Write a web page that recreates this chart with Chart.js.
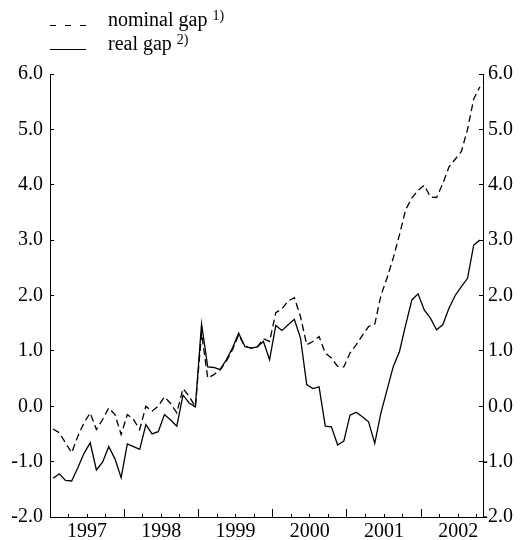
<!DOCTYPE html>
<html>
<head>
<meta charset="utf-8">
<script src="https://cdn.jsdelivr.net/npm/chart.js@4/dist/chart.umd.min.js"></script>
<style>
  html, body { margin: 0; padding: 0; background: #fff; }
  #wrap { position: relative; width: 523px; height: 540px; }
  .legend-row { position: absolute; left: 50px; height: 20px; line-height: 20px; font-family: "Liberation Serif", serif; font-size: 20px; color: #000; white-space: nowrap; }
  .legend-row svg { position: absolute; left: 0; }
  .legend-row .txt { position: absolute; left: 58px; }
  .legend-row .sup { font-size: 14px; position: relative; top: -6px; }
</style>
</head>
<body>
<div id="wrap">
  <canvas id="gap-chart" width="523" height="540"></canvas>
  <div class="legend-row" style="top:9px">
    <svg width="40" height="24" style="top:0"><line x1="0" y1="16.5" x2="36" y2="16.5" stroke="#000" stroke-width="1.2" stroke-dasharray="6,9"/></svg>
    <span class="txt">nominal gap <span class="sup">1)</span></span>
  </div>
  <div class="legend-row" style="top:33px">
    <svg width="40" height="24" style="top:0"><line x1="0" y1="16.5" x2="36" y2="16.5" stroke="#000" stroke-width="1.2"/></svg>
    <span class="txt">real gap <span class="sup">2)</span></span>
  </div>
</div>
<script>
// monthly observations, Jan 1997 .. Oct 2002
const startYear = 1997;
const yearLabels = ["1997", "1998", "1999", "2000", "2001", "2002"];

const nominalGap = [
  -0.41, -0.48, -0.66, -0.84, -0.54, -0.30, -0.12, -0.42, -0.24, -0.03, -0.15, -0.51,
  -0.15, -0.24, -0.42, 0.00, -0.09, 0.00, 0.17, 0.05, -0.12, 0.32, 0.18, -0.01,
  1.32, 0.51, 0.57, 0.66, 0.81, 1.02, 1.29, 1.08, 1.05, 1.07, 1.22, 1.17,
  1.69, 1.76, 1.90, 1.96, 1.62, 1.11, 1.17, 1.26, 0.96, 0.87, 0.72, 0.71,
  0.96, 1.11, 1.28, 1.44, 1.48, 2.00, 2.32, 2.68, 3.10, 3.55, 3.76, 3.90,
  3.99, 3.78, 3.77, 4.02, 4.32, 4.46, 4.60, 5.00, 5.55, 5.77
];

const realGap = [
  -1.30, -1.22, -1.34, -1.35, -1.11, -0.85, -0.66, -1.15, -1.01, -0.73, -0.95, -1.29,
  -0.68, -0.73, -0.78, -0.33, -0.50, -0.46, -0.15, -0.25, -0.36, 0.20, 0.06, -0.01,
  1.49, 0.71, 0.70, 0.66, 0.84, 1.05, 1.32, 1.08, 1.05, 1.07, 1.17, 0.84,
  1.46, 1.37, 1.47, 1.57, 1.23, 0.39, 0.32, 0.35, -0.36, -0.37, -0.70, -0.63,
  -0.16, -0.11, -0.19, -0.28, -0.67, -0.12, 0.30, 0.72, 0.99, 1.47, 1.92, 2.03,
  1.74, 1.59, 1.38, 1.47, 1.77, 2.00, 2.16, 2.31, 2.91, 3.00
];

const yMin = -2, yMax = 6;

// month index -> fractional year, plotted in the middle of the month
const toPoints = (arr) => arr.map((v, i) => ({ x: startYear + (i + 0.5) / 12, y: v }));
const xMax = startYear + nominalGap.length / 12;

const FONT = { family: "'Liberation Serif', 'Times New Roman', serif", size: 20 };

function quarterIndex(v) {
  return Math.round((v - startYear) * 4);
}

function yAxis(position, width) {
  return {
    type: "linear",
    position,
    min: yMin,
    max: yMax,
    afterFit: (s) => { s.width = width; },
    border: { display: true, color: "#000", width: 1 },
    grid: { drawOnChartArea: false, drawTicks: true, tickLength: -4, tickColor: "#000", tickWidth: 1 },
    ticks: {
      stepSize: 1,
      color: "#000",
      font: FONT,
      padding: 11,
      crossAlign: position === "right" ? "far" : "near",
      callback: (v) => Number(v).toFixed(1)
    }
  };
}

new Chart(document.getElementById("gap-chart").getContext("2d"), {
  type: "line",
  data: {
    datasets: [
      { label: "nominal gap", data: toPoints(nominalGap), borderColor: "#000", borderWidth: 1.3, borderDash: [7, 4], pointRadius: 0, fill: false },
      { label: "real gap", data: toPoints(realGap), borderColor: "#000", borderWidth: 1.3, pointRadius: 0, fill: false }
    ]
  },
  options: {
    responsive: false,
    animation: false,
    layout: { padding: { top: 74, right: 10, left: 0, bottom: 0 } },
    plugins: { legend: { display: false }, tooltip: { enabled: false } },
    elements: { line: { tension: 0 } },
    scales: {
      x: {
        type: "linear",
        position: "bottom",
        min: startYear,
        max: xMax,
        afterFit: (s) => { s.height = 22; },
        afterBuildTicks: (s) => {
          const ticks = [];
          for (let q = 0; startYear + q / 4 <= xMax + 1e-6; q++) ticks.push({ value: startYear + q / 4 });
          s.ticks = ticks;
        },
        border: { display: true, color: "#000", width: 1 },
        grid: {
          drawOnChartArea: false,
          tickLength: -8,
          tickColor: "#000",
          tickWidth: 1,
          tickBorderDash: (ctx) => (quarterIndex(ctx.tick.value) % 4 === 0 ? [] : [4, 40])
        },
        ticks: {
          autoSkip: false,
          maxRotation: 0,
          color: "#000",
          font: FONT,
          padding: 11,
          callback: (v) => {
            const q = quarterIndex(v);
            return q % 4 === 2 ? yearLabels[(q - 2) / 4] : "";
          }
        }
      },
      y: yAxis("left", 50),
      y2: yAxis("right", 30)
    }
  }
});
</script>
</body>
</html>
